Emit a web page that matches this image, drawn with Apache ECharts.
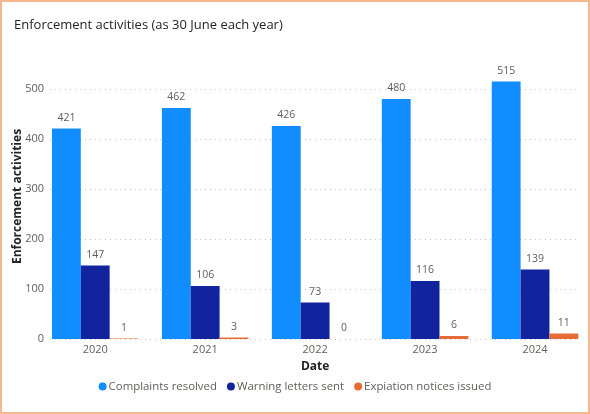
<!DOCTYPE html>
<html>
<head>
<meta charset="utf-8">
<script src="https://cdn.jsdelivr.net/npm/echarts@6/dist/echarts.min.js"></script>
<style>
html,body{margin:0;padding:0;background:#fff;}
#wrap{position:relative;width:590px;height:414px;}
#chart{position:absolute;left:0;top:0;width:590px;height:414px;}
#frame{position:absolute;left:0;top:0;width:590px;height:414px;box-sizing:border-box;border:2px solid #F5B78E;pointer-events:none;}
</style>
</head>
<body>
<div id="wrap"><div id="chart"></div><div id="frame"></div></div>
<script>
const categories = ['2020', '2021', '2022', '2023', '2024'];
const complaintsResolved = [421, 462, 426, 480, 515];
const warningLettersSent = [147, 106, 73, 116, 139];
const expiationNoticesIssued = [1, 3, 0, 6, 11];
const yTicks = [0, 100, 200, 300, 400, 500];

const FONT = '"Segoe UI", "Open Sans", "Noto Sans", sans-serif';
const chart = echarts.init(document.getElementById('chart'), null, {renderer: 'canvas'});

const labelStyle = {show: true, position: 'top', distance: 5, color: '#605E5C', fontSize: 10.5, fontFamily: FONT};

chart.setOption({
  animation: false,
  backgroundColor: '#fff',
  title: {
    text: 'Enforcement activities (as 30 June each year)',
    left: 9, top: 14,
    textStyle: {fontSize: 13, fontWeight: 'normal', color: '#252423', fontFamily: FONT}
  },
  legend: {
    bottom: 17, left: 'center',
    icon: 'circle', itemWidth: 8, itemHeight: 8, itemGap: 10,
    textStyle: {fontSize: 11.4, color: '#605E5C', fontFamily: FONT, padding: [0, 0, 0, -3]},
    data: ['Complaints resolved', 'Warning letters sent', 'Expiation notices issued']
  },
  grid: [
    {left: 40.25, right: -2.75, top: 54, bottom: 75},
    {left: 50, right: 10, top: 89, bottom: 75}
  ],
  xAxis: [
    {
      type: 'category', gridIndex: 0, data: categories,
      axisLine: {show: false}, axisTick: {show: false},
      axisLabel: {color: '#605E5C', fontSize: 11, fontFamily: FONT, margin: 5},
      name: 'Date', nameLocation: 'middle', nameGap: 22,
      nameTextStyle: {color: '#252423', fontSize: 12, fontWeight: 'bold', fontFamily: FONT}
    },
    {type: 'value', gridIndex: 1, show: false, min: 0, max: 1}
  ],
  yAxis: [
    {
      type: 'value', gridIndex: 0, min: 0, max: 570,
      axisLine: {show: false}, axisTick: {show: false}, axisLabel: {show: false},
      splitLine: {show: false},
      name: 'Enforcement activities', nameLocation: 'middle', nameGap: 16.5, nameRotate: 90,
      nameTextStyle: {color: '#252423', fontSize: 12, fontWeight: 'bold', fontFamily: FONT}
    },
    {
      type: 'value', gridIndex: 1, min: 0, max: yTicks[yTicks.length - 1], interval: 100,
      axisLine: {show: false}, axisTick: {show: false},
      axisLabel: {color: '#605E5C', fontSize: 11, fontFamily: FONT, margin: 6},
      splitLine: {show: true, lineStyle: {type: [1, 4], color: '#C8C6C4', width: 1}}
    }
  ],
  series: [
    {name: 'Complaints resolved', type: 'bar', xAxisIndex: 0, yAxisIndex: 0, data: complaintsResolved,
     itemStyle: {color: '#118DFF'}, barGap: '0%', barCategoryGap: '21.3%', label: labelStyle},
    {name: 'Warning letters sent', type: 'bar', xAxisIndex: 0, yAxisIndex: 0, data: warningLettersSent,
     itemStyle: {color: '#12239E'}, barGap: '0%', barCategoryGap: '21.3%', label: labelStyle},
    {name: 'Expiation notices issued', type: 'bar', xAxisIndex: 0, yAxisIndex: 0, data: expiationNoticesIssued,
     itemStyle: {color: '#E66C37'}, barGap: '0%', barCategoryGap: '21.3%', label: labelStyle},
    {type: 'line', xAxisIndex: 1, yAxisIndex: 1, data: [], silent: true}
  ]
});
</script>
</body>
</html>
